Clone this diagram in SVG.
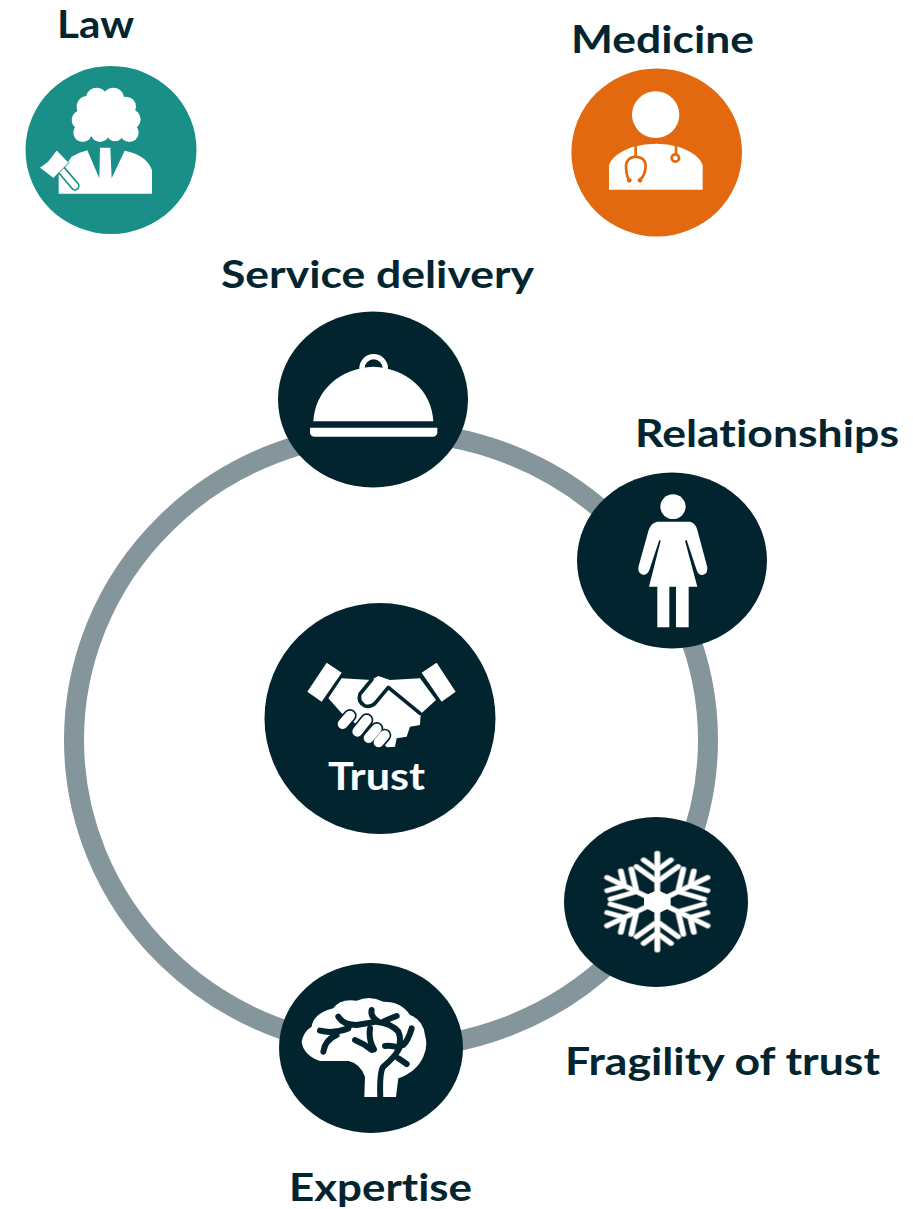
<svg xmlns="http://www.w3.org/2000/svg" width="913" height="1209" viewBox="0 0 913 1209">
<style>
.t{font-family:"Lato","Open Sans","Liberation Sans",sans-serif;font-weight:700;font-size:38px;fill:#03252f;font-variant-ligatures:none}
.d{fill:#01242f}
.w{fill:#fff}
.ds{fill:none;stroke:#01242f;stroke-linecap:round;stroke-linejoin:round}
.ws{fill:none;stroke:#fff;stroke-linecap:round;stroke-linejoin:round}
</style>
<defs>
<g id="arm"><path d="M292 275V130M292 215L240 170M292 215L344 170M292 180L258 150M292 180L326 150"/></g>
<g id="flake" transform="translate(292 275) scale(1.2 1) translate(-292 -275)">
<use href="#arm"/>
<use href="#arm" transform="rotate(60 292 275)"/>
<use href="#arm" transform="rotate(120 292 275)"/>
<use href="#arm" transform="rotate(180 292 275)"/>
<use href="#arm" transform="rotate(240 292 275)"/>
<use href="#arm" transform="rotate(300 292 275)"/>
</g>
</defs>
<rect width="913" height="1209" fill="#fff"/>
<g id="connectors">
<ellipse cx="391" cy="740" rx="317" ry="308" fill="none" stroke="#84959b" stroke-width="20"/>
</g>
<g id="law">
<text class="t" x="57" y="38" textLength="77" lengthAdjust="spacingAndGlyphs">Law</text>
<ellipse cx="111" cy="150" rx="85.500" ry="84" fill="#1a8f87"/>
<g transform="scale(.3333)">
<g class="w">
<circle cx="290" cy="295" r="32"/><circle cx="340" cy="295" r="32"/><circle cx="378" cy="320" r="30"/><circle cx="262" cy="320" r="32"/><circle cx="245" cy="360" r="30"/><circle cx="392" cy="358" r="30"/><circle cx="248" cy="398" r="28"/><circle cx="388" cy="398" r="28"/><circle cx="300" cy="398" r="28"/><circle cx="345" cy="398" r="26"/><circle cx="318" cy="350" r="60"/>
<path d="M176 581V525L215 470Q235 458 262 451L298 535L300 443H331L335 535L374 452Q440 465 456 510V581Z"/>
</g>
<path d="M180 505L225 558" fill="none" stroke="#1a8f87" stroke-width="28" stroke-linecap="round"/>
<path d="M180 505L225 558" class="ws" stroke-width="18"/>
<path d="M170 450L207 488L160 535L118 503L143 485Z" class="w" stroke="#1a8f87" stroke-width="3"/>
</g>
</g>
<g id="medicine">
<text class="t" x="571" y="53" textLength="183" lengthAdjust="spacingAndGlyphs">Medicine</text>
<ellipse cx="656.700" cy="152.500" rx="85.300" ry="84" fill="#e2690f"/>
<g transform="translate(550 0) scale(.3333)">
<ellipse class="w" cx="317" cy="344" rx="71" ry="70"/>
<path class="w" d="M177 569V495Q190 460 250 440Q320 422 385 440Q445 460 458 495V569Z"/>
<g fill="none" stroke="#e2690f" stroke-width="8" stroke-linecap="round">
<path d="M257 438V470M237 540Q228 525 228 495Q232 472 257 470Q285 472 287 495Q287 525 270 540M378 438V460"/>
<circle cx="376" cy="474" r="11"/>
</g>
<circle cx="238" cy="541" r="7" fill="#e2690f"/><circle cx="270" cy="541" r="7" fill="#e2690f"/>
</g>
</g>
<g id="trust">
<circle class="d" cx="380" cy="718.500" r="115.500"/>
<g transform="translate(300 650) scale(.3333)">
<g class="w">
<path d="M80 38L125 68L65 155L22 125Z"/>
<path d="M410 38L365 68L425 155L467 125Z"/>
<path d="M125 85L213 90L235 78L270 90L360 85L408 150L362 192L360 225L330 230L320 260L290 265L285 290L262 292L125 190L85 145Z"/>
</g>
<path class="ds" stroke-width="11" d="M216 88L180 132Q172 155 195 168Q212 172 225 160L265 112L360 190"/>
<path class="ds" stroke-width="40" d="M128 222L150 197M172 245L200 210M206 264L230 236M236 277L254 256"/>
<path class="ws" stroke-width="30" d="M128 222L150 197M172 245L200 210M206 264L230 236M236 277L254 256"/>
</g>
<text x="328" y="790" textLength="97" lengthAdjust="spacingAndGlyphs" class="t" style="fill:#fff">Trust</text>
</g>
<g id="service-delivery">
<text class="t" x="221" y="288" textLength="313" lengthAdjust="spacingAndGlyphs">Service delivery</text>
<ellipse class="d" cx="373" cy="399.500" rx="95" ry="88"/>
<g transform="translate(270 320) scale(.3333)">
<path class="w" d="M130 304C135 210 210 145 310 140C410 145 485 210 490 304Z"/>
<path class="ws" stroke-width="16" d="M276 145A35 35 0 1 1 346 145"/>
<path class="w" d="M120 323H502V338Q500 350 488 350H134Q122 350 120 338Z"/>
</g>
</g>
<g id="relationships">
<text class="t" x="635" y="447" textLength="264" lengthAdjust="spacingAndGlyphs">Relationships</text>
<ellipse class="d" cx="672" cy="560.500" rx="95" ry="88"/>
<g transform="translate(570 470) scale(.3333)">
<ellipse class="w" cx="309" cy="110" rx="38" ry="37"/>
<path class="w" d="M262 155H360Q376 158 382 180L412 292Q414 312 398 315Q385 316 380 300L350 210L345 212L382 350H356V472H318V350H298V472H262V350H237L272 212L268 210L238 300Q232 316 218 314Q203 310 205 292L236 180Q244 158 262 155Z"/>
</g>
</g>
<g id="fragility-of-trust">
<text class="t" x="565" y="1075" textLength="315" lengthAdjust="spacingAndGlyphs">Fragility of trust</text>
<ellipse class="d" cx="656" cy="902" rx="92" ry="85"/>
<g transform="translate(560 810) scale(.3333)">
<use href="#flake" fill="none" stroke="#8f999c" stroke-width="17" stroke-linecap="round"/>
<use href="#flake" fill="none" stroke="#fff" stroke-width="12" stroke-linecap="round"/>
<path class="w" d="M292 240L332 258V292L292 312L252 292V258Z"/>
</g>
</g>
<g id="expertise">
<text class="t" x="289" y="1201" textLength="183" lengthAdjust="spacingAndGlyphs">Expertise</text>
<ellipse class="d" cx="371" cy="1048" rx="92" ry="85"/>
<g transform="translate(270 960) scale(.3333)">
<path class="w" d="M283 411L285 350Q270 310 235 303L150 303Q100 285 95 245Q100 215 125 200Q130 160 190 145Q210 115 260 122Q300 105 340 125Q395 125 420 165Q460 180 465 225Q475 260 460 290Q440 335 385 355L378 411Z"/>
<path class="ds" stroke-width="18" d="M150 212Q190 222 235 205M205 170Q220 195 260 195Q290 190 320 185Q365 190 385 215Q395 235 385 270Q375 290 340 320Q328 335 331 415M305 150Q300 170 325 185M380 168Q360 175 340 185M160 275Q165 240 200 225M255 240Q280 250 305 270M300 205Q295 240 312 268M345 258Q370 255 388 265M425 205Q415 240 400 255M385 295L410 312"/>
</g>
</g>
</svg>
